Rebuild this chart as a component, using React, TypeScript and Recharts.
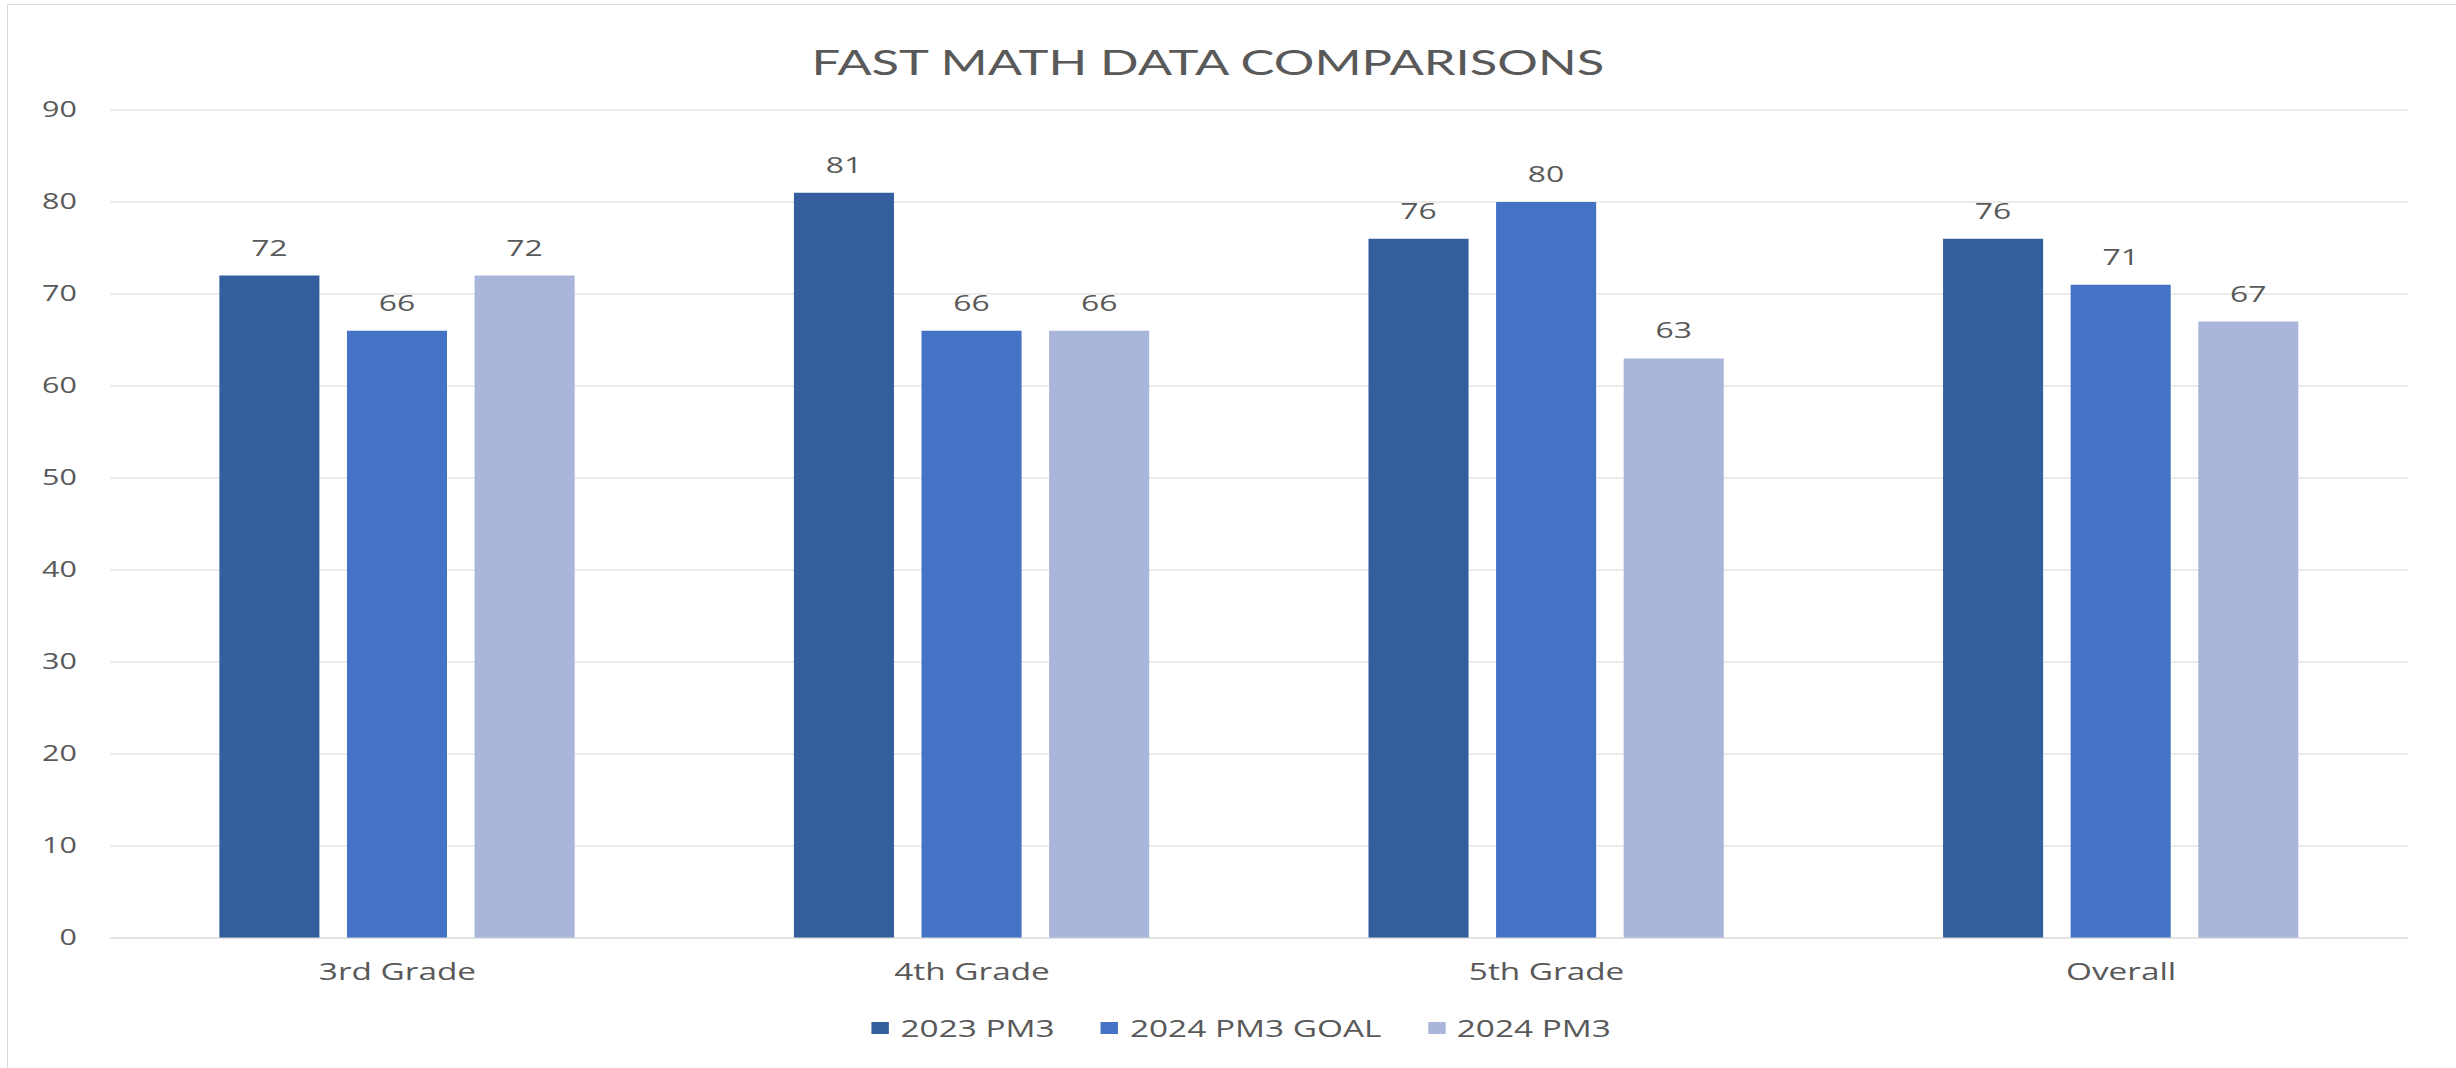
import React from 'react';
import { BarChart, Bar, XAxis, YAxis, CartesianGrid, Legend, LabelList } from 'recharts';

const grades = ['3rd Grade', '4th Grade', '5th Grade', 'Overall'];
const pm3_2023 = [72, 81, 76, 76];
const pm3Goal_2024 = [66, 66, 80, 71];
const pm3_2024 = [72, 66, 63, 67];
const yTicks = [0, 10, 20, 30, 40, 50, 60, 70, 80, 90];

const seriesNames = ['2023 PM3', '2024 PM3 GOAL', '2024 PM3'];
const seriesColors = ['#355E9F', '#4472C4', '#A9B5DA'];

const data = grades.map((g, i) => ({
  name: g,
  a: pm3_2023[i],
  b: pm3Goal_2024[i],
  c: pm3_2024[i],
}));

// the source picture is stretched sideways, so the chart is drawn narrower and scaled
const STRETCH = 1.45;
const W = 1694;
const H = 1068;
const textColor = '#595959';
const gridColor = '#D9D9D9';

// legend keeps the series order (recharts would sort it by name)
const renderLegend = () => (
  <div style={{ height: 60, display: 'flex', justifyContent: 'center', alignItems: 'center' }}>
    {seriesNames.map((name, i) => (
      <div key={name} style={{ display: 'flex', alignItems: 'center', marginLeft: i ? 32 : 0 }}>
        <div style={{ width: 12, height: 12, background: seriesColors[i], marginRight: 8 }} />
        <span style={{ fontFamily: 'Open Sans', fontSize: 23, lineHeight: '23px', color: textColor }}>
          {name}
        </span>
      </div>
    ))}
  </div>
);

export default function App() {
  const keys = ['a', 'b', 'c'];
  return (
    <div style={{ position: 'absolute', left: 0, top: 0, width: 2456, height: 1068, overflow: 'hidden', background: '#fff' }}>
      <div
        style={{
          position: 'absolute',
          left: 7,
          top: 4,
          width: 2456,
          height: 1068,
          borderLeft: `1px solid ${gridColor}`,
          borderTop: `1px solid ${gridColor}`,
        }}
      />
      <div
        style={{
          position: 'absolute',
          left: 0,
          top: 0,
          width: W,
          height: H,
          transform: `scaleX(${STRETCH})`,
          transformOrigin: '0 0',
          fontFamily: 'Open Sans',
        }}
      >
        <div
          style={{
            position: 'absolute',
            left: 0,
            top: 44,
            width: 1666,
            textAlign: 'center',
            fontFamily: 'Lato',
            fontWeight: 400,
            fontSize: 35,
            lineHeight: '35px',
            color: textColor,
          }}
        >
          FAST MATH DATA COMPARISONS
        </div>
        <BarChart
          width={W}
          height={H}
          data={data}
          margin={{ top: 110, right: 33, left: 51, bottom: 10 }}
          barCategoryGap="19%"
          barGap={19}
        >
          <CartesianGrid vertical={false} stroke={gridColor} />
          <XAxis
            dataKey="name"
            height={60}
            tickSize={0}
            tickMargin={26}
            tickLine={false}
            axisLine={{ stroke: gridColor }}
            tick={{ fill: textColor, fontSize: 23, fontFamily: 'Open Sans' }}
          />
          <YAxis
            width={25}
            domain={[0, 90]}
            ticks={yTicks}
            tickSize={0}
            tickMargin={23}
            axisLine={false}
            tickLine={false}
            tick={{ fill: textColor, fontSize: 21, fontFamily: 'Open Sans' }}
          />
          <Legend verticalAlign="bottom" height={60} content={renderLegend} />
          {keys.map((k, i) => (
            <Bar key={k} dataKey={k} name={seriesNames[i]} fill={seriesColors[i]} isAnimationActive={false}>
              <LabelList
                dataKey={k}
                position="top"
                offset={20}
                fill={textColor}
                fontSize={22}
                fontFamily="Open Sans"
              />
            </Bar>
          ))}
        </BarChart>
      </div>
    </div>
  );
}
